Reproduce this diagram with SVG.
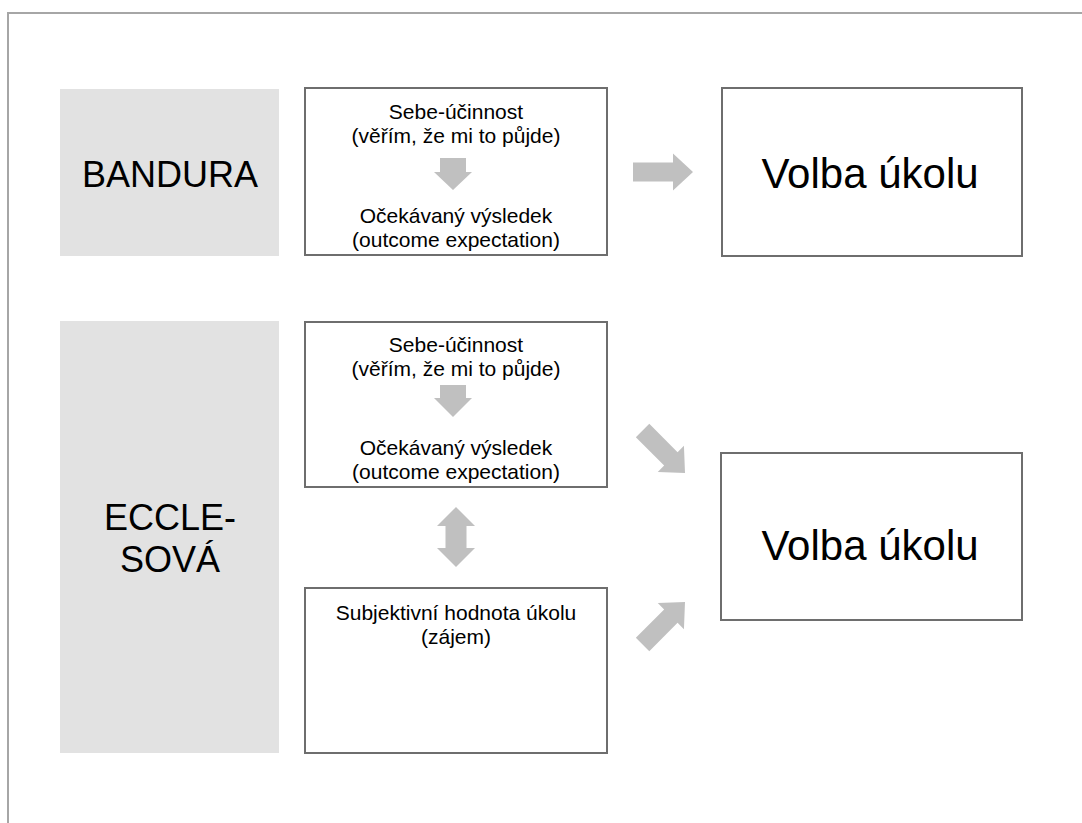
<svg xmlns="http://www.w3.org/2000/svg" width="1082" height="823" viewBox="0 0 1082 823">
  <style>
    .frame { fill: none; stroke: #a6a6a6; stroke-width: 2; }
    .band { fill: #e2e2e2; }
    .box { fill: #ffffff; stroke: #6e6e6e; stroke-width: 2; }
    .arrow { fill: #c0c0c0; }
    text { font-family: "Liberation Sans", Arial, sans-serif; fill: #000000; text-anchor: middle; }
    .small { font-size: 21px; }
    .label { font-size: 36px; }
    .big { font-size: 42px; }
  </style>
  <defs>
    <!-- block arrow pointing right, tip at the origin -->
    <path id="blockArrow" d="M -60 -9.5 L -20 -9.5 L -20 -18.5 L 0 0 L -20 18.5 L -20 9.5 L -60 9.5 Z"/>
  </defs>

  <!-- slide frame -->
  <path class="frame" d="M 8 823 L 8 13 L 1082 13"/>

  <!-- Bandura row -->
  <g id="bandura-label">
    <rect class="band" x="60" y="89" width="219" height="167"/>
    <text class="label" x="170" y="187">BANDURA</text>
  </g>
  <g id="bandura-expectations">
    <rect class="box" x="305" y="88" width="302" height="167"/>
    <text class="small" x="456" y="119">Sebe-účinnost</text>
    <text class="small" x="456" y="143">(věřím, že mi to půjde)</text>
    <text class="small" x="456" y="223">Očekávaný výsledek</text>
    <text class="small" x="456" y="247">(outcome expectation)</text>
  </g>
  <g id="bandura-choice">
    <rect class="box" x="722" y="88" width="300" height="168"/>
    <text class="big" x="870" y="188">Volba úkolu</text>
  </g>

  <!-- Eccles row -->
  <g id="eccles-label">
    <rect class="band" x="60" y="321" width="219" height="432"/>
    <text class="label" x="170" y="530">ECCLE-</text>
    <text class="label" x="170" y="572">SOVÁ</text>
  </g>
  <g id="eccles-expectations">
    <rect class="box" x="305" y="322" width="302" height="165"/>
    <text class="small" x="456" y="352">Sebe-účinnost</text>
    <text class="small" x="456" y="376">(věřím, že mi to půjde)</text>
    <text class="small" x="456" y="455">Očekávaný výsledek</text>
    <text class="small" x="456" y="479">(outcome expectation)</text>
  </g>
  <g id="eccles-value">
    <rect class="box" x="305" y="588" width="302" height="165"/>
    <text class="small" x="456" y="620">Subjektivní hodnota úkolu</text>
    <text class="small" x="456" y="644">(zájem)</text>
  </g>
  <g id="eccles-choice">
    <rect class="box" x="721" y="453" width="301" height="167"/>
    <text class="big" x="870" y="560">Volba úkolu</text>
  </g>

  <!-- connectors -->
  <g id="connectors">
    <path class="arrow" d="M 440 158 L 466 158 L 466 172 L 472 172 L 453 190 L 434 172 L 440 172 Z"/>
    <use class="arrow" href="#blockArrow" transform="translate(693,172)"/>
    <path class="arrow" d="M 440 385 L 466 385 L 466 398 L 472 398 L 453 417 L 434 398 L 440 398 Z"/>
    <use class="arrow" href="#blockArrow" transform="translate(685,473) rotate(45)"/>
    <use class="arrow" href="#blockArrow" transform="translate(685,602) rotate(-45)"/>
    <path class="arrow" d="M 456 507 L 475 526 L 466.5 526 L 466.5 548 L 475 548 L 456 567 L 437 548 L 445.5 548 L 445.5 526 L 437 526 Z"/>
  </g>
</svg>
